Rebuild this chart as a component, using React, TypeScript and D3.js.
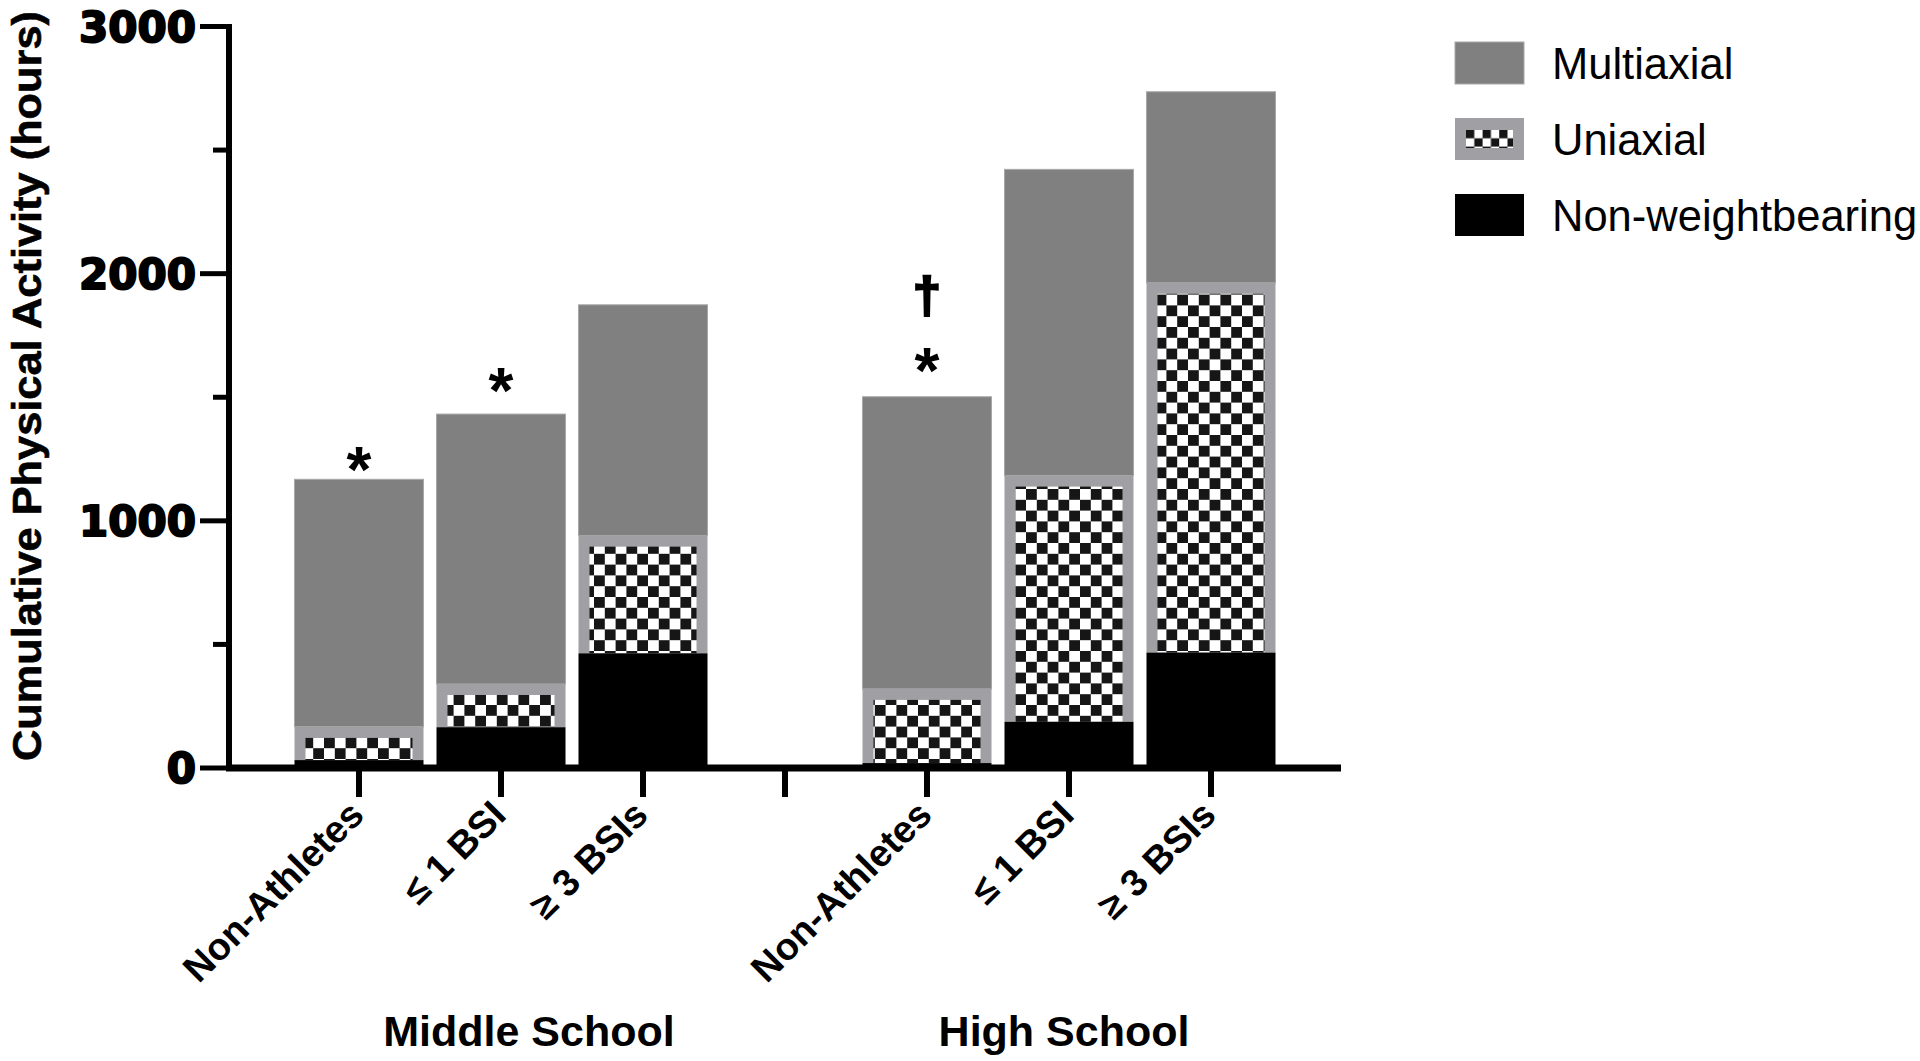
import React from "react";
import * as d3 from "d3";

const categories = ["Non-Athletes", "≤ 1 BSI", "≥ 3 BSIs", "Non-Athletes", "≤ 1 BSI", "≥ 3 BSIs"];
const groupOf = [0, 0, 0, 1, 1, 1];
const groups = ["Middle School", "High School"];
const nonWeightbearing = [32, 165, 464, 20, 187, 467];
const uniaxial = [135, 175, 476, 300, 996, 1496];
const multiaxial = [1001, 1092, 934, 1182, 1239, 773];
const yTicks = [0, 1000, 2000, 3000];
const yMinorTicks = [500, 1500, 2500];
const seriesNames = ["Multiaxial", "Uniaxial", "Non-weightbearing"];
const annotations = [
  { cat: 0, sym: "*", v: 1262 },
  { cat: 1, sym: "*", v: 1578 },
  { cat: 3, sym: "*", v: 1661 },
  { cat: 3, sym: "†", v: 1902 },
];

// slots: 3 middle school, gap, 3 high school
const slotKeys = ["m0", "m1", "m2", "gap", "h0", "h1", "h2"];
const catSlot = [0, 1, 2, 4, 5, 6];

const COL_MULTI = "#808080";
const COL_UNI_BORDER = "#a0a0a4";
const COL_NWB = "#000000";
const FONT = "'Liberation Sans', Arial, sans-serif";

export default function App() {
  const W = 1920, H = 1061;
  const y = d3.scaleLinear().domain([0, 3000]).range([768, 26.5]);
  const x = d3.scaleBand<string>().domain(slotKeys).range([288, 1282]).paddingInner(0.0915).paddingOuter(0.0458);
  const bw = x.bandwidth();
  const axisX = 229;
  const inset = 11;

  const stackData = categories.map((c, i) => {
    const nwb = nonWeightbearing[i];
    const uni = uniaxial[i];
    const mul = multiaxial[i];
    return { i, nwb: [0, nwb], uni: [nwb, nwb + uni], mul: [nwb + uni, nwb + uni + mul] };
  });

  return (
    <svg width={W} height={H} style={{ position: "absolute", left: 0, top: 0, background: "#fff" }}>
      <defs>
        <pattern id="checker" patternUnits="userSpaceOnUse" width={21.6} height={21.6} x={0} y={3}>
          <rect width={21.6} height={21.6} fill="#fff" />
          <rect width={10.8} height={10.8} fill="#161616" />
          <rect x={10.8} y={10.8} width={10.8} height={10.8} fill="#161616" />
        </pattern>
        <pattern id="checkerLegend" patternUnits="userSpaceOnUse" width={16.6} height={16.6} x={1466} y={130}>
          <rect width={16.6} height={16.6} fill="#fff" />
          <rect width={8.3} height={8.3} fill="#161616" />
          <rect x={8.3} y={8.3} width={8.3} height={8.3} fill="#161616" />
        </pattern>
      </defs>

      {/* bars */}
      {stackData.map((d) => {
        const bx = x(slotKeys[catSlot[d.i]])!;
        const uTop = y(d.uni[1]);
        const uBot = y(d.uni[0]);
        const innerH = uBot - (uTop + inset);
        return (
          <g key={d.i}>
            <rect x={bx} y={y(d.mul[1])} width={bw} height={y(d.mul[0]) - y(d.mul[1])} fill={COL_MULTI} stroke="#a8a8a8" strokeWidth={1} />
            <rect x={bx} y={uTop} width={bw} height={uBot - uTop} fill={COL_UNI_BORDER} />
            {innerH > 0 && (
              <rect x={bx + inset} y={uTop + inset} width={bw - 2 * inset} height={innerH} fill="url(#checker)" />
            )}
            <rect x={bx} y={y(d.nwb[1])} width={bw} height={y(d.nwb[0]) - y(d.nwb[1])} fill={COL_NWB} />
          </g>
        );
      })}

      {/* annotations */}
      {annotations.map((a, k) => {
        const cx = x(slotKeys[catSlot[a.cat]])! + bw / 2;
        const cy = y(a.v);
        const fs = a.sym === "*" ? 64 : 50;
        const off = a.sym === "*" ? 0.555 * fs : 0.29 * fs;
        return (
          <text
            key={k}
            x={cx}
            y={cy + off}
            textAnchor="middle"
            fontFamily={FONT}
            fontWeight="bold"
            fontSize={fs}
            fill="#000"
            stroke="#000"
            strokeWidth={a.sym === "*" ? 0 : 2.5}
          >
            {a.sym}
          </text>
        );
      })}

      {/* y axis */}
      <line x1={axisX} x2={axisX} y1={y(3000) - 2.5} y2={y(0) + 3} stroke="#000" strokeWidth={6} />
      {yTicks.map((t) => (
        <g key={t}>
          <line x1={axisX - 29} x2={axisX} y1={y(t)} y2={y(t)} stroke="#000" strokeWidth={5} />
          <text
            x={196}
            y={y(t)}
            dy="0.36em"
            textAnchor="end"
            fontFamily="'DejaVu Sans', sans-serif"
            fontWeight="bold"
            fontSize={42}
            fill="#000"
            stroke="#000"
            strokeWidth={2}
            strokeLinejoin="round"
          >
            {t}
          </text>
        </g>
      ))}
      {yMinorTicks.map((t) => (
        <line key={t} x1={axisX - 16} x2={axisX} y1={y(t)} y2={y(t)} stroke="#000" strokeWidth={5} />
      ))}
      <text
        transform={`translate(27, 386) rotate(-90)`}
        textAnchor="middle"
        dy="0.35em"
        fontFamily={FONT}
        fontWeight="bold"
        fontSize={40}
        textLength={750}
        lengthAdjust="spacingAndGlyphs"
        fill="#000"
        stroke="#000"
        strokeWidth={0.6}
      >
        Cumulative Physical Activity (hours)
      </text>

      {/* x axis */}
      <line x1={axisX - 3} x2={1341} y1={y(0)} y2={y(0)} stroke="#000" strokeWidth={7} />
      {slotKeys.map((s) => {
        const cx = x(s)! + bw / 2;
        return <line key={s} x1={cx} x2={cx} y1={y(0)} y2={797} stroke="#000" strokeWidth={6} />;
      })}
      {categories.map((c, i) => {
        const cx = x(slotKeys[catSlot[i]])! + bw / 2;
        return (
          <text
            key={i}
            transform={`translate(${cx + 7}, ${817}) rotate(-45)`}
            textAnchor="end"
            fontFamily={FONT}
            fontWeight="bold"
            fontSize={38}
            fill="#000"
          >
            {c}
          </text>
        );
      })}
      {groups.map((g, gi) => {
        const idx = categories.findIndex((_, i) => groupOf[i] === gi);
        const mid = x(slotKeys[catSlot[idx + 1]])! + bw / 2;
        const shift = gi === 0 ? 28 : -5;
        return (
          <text key={g} x={mid + shift} y={1046} textAnchor="middle" fontFamily={FONT} fontWeight="bold" fontSize={43} fill="#000">
            {g}
          </text>
        );
      })}

      {/* legend */}
      {seriesNames.map((n, k) => {
        const ly = 42 + k * 76;
        return (
          <g key={n}>
            {k === 0 && <rect x={1455} y={ly} width={69} height={42} fill={COL_MULTI} stroke="#a8a8a8" strokeWidth={1} />}
            {k === 1 && (
              <g>
                <rect x={1455} y={ly} width={69} height={42} fill={COL_UNI_BORDER} />
                <rect x={1466} y={ly + 12} width={47} height={18} fill="url(#checkerLegend)" />
              </g>
            )}
            {k === 2 && <rect x={1455} y={ly} width={69} height={42} fill={COL_NWB} />}
            <text x={1552} y={ly + 21} dy="0.36em" fontFamily={FONT} fontSize={43.5} fill="#000">
              {n}
            </text>
          </g>
        );
      })}
    </svg>
  );
}
